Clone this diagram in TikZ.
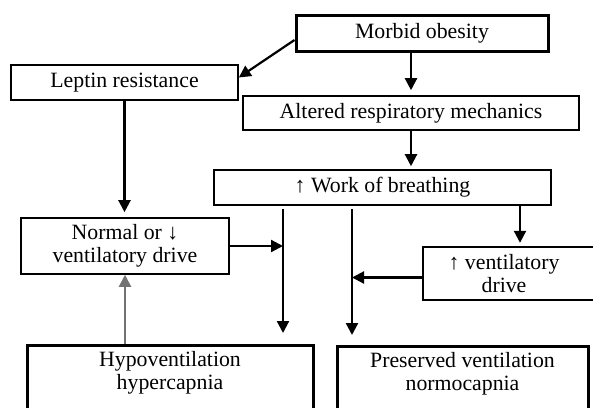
\documentclass[tikz,border=0pt]{standalone}
\usepackage{fontspec}
\setmainfont{Liberation Serif}
\usetikzlibrary{arrows.meta}

\begin{document}
\begin{tikzpicture}[
    x=1pt,y=-1pt,
    font=\fontsize{21.8}{23}\selectfont,
    any/.style={draw,line width=1.6pt,align=center,inner sep=4pt},
    heavy/.style={any,line width=3pt},
    open/.style={align=center,inner sep=4pt},
    arr/.style={line width=2.2pt,-{Triangle[length=12pt,width=12pt]},shorten >=4pt},
    back/.style={arr,draw=black!55,shorten >=0pt}
]
\path[use as bounding box,clip] (0,0) rectangle (593,407);

\node (mo)  [heavy,minimum width=252pt,minimum height=36pt] at (422,33) {Morbid obesity};
\node (lr)  [any,minimum width=227pt,minimum height=35pt] at (124.5,82.5) {Leptin resistance};
\node (arm) [any,minimum width=336pt,minimum height=34pt] at (411,113) {Altered respiratory mechanics};
\node (wob) [any,minimum width=337pt,minimum height=35pt] at (382.5,187.5) {↑ Work of breathing};
\node (nvd) [any,minimum width=208pt,minimum height=56pt] at (125,246) {Normal or ↓\\ventilatory drive};
\node (ivd) [open,minimum width=162pt,minimum height=53pt] at (504,273.5) {↑ ventilatory\\drive};
\draw[line width=1.6pt] ([xshift=30pt]ivd.north east) -| (ivd.south west) -- ([xshift=30pt]ivd.south east);
\node (hh)  [heavy,anchor=north,minimum width=286pt,text depth=80pt,inner sep=6pt] at (170,344) {Hypoventilation\\hypercapnia};
\node (pvn) [heavy,anchor=north,minimum width=251pt,text depth=80pt,inner sep=6pt] at (462.5,345) {Preserved ventilation\\normocapnia};

% split points under the work box
\coordinate (ta) at (283,209);
\coordinate (tb) at (352,209);
\coordinate (tc) at (520,205);

\draw[arr,shorten >=0pt] ([yshift=-7pt]mo.west) -- ([yshift=5pt]lr.east);
\draw[arr,shorten >=5pt] (mo.south -| arm.north) -- (arm.north);
\draw[arr,shorten >=3pt] (arm.south) -- (arm.south |- wob.north);
\draw[arr,shorten >=5pt] (lr.south) -- (lr.south |- nvd.north);
\draw[arr] (tc) -- (tc |- ivd.north);
\draw[arr,shorten >=11pt] (ta) -- (ta |- hh.north);
\draw[arr,shorten >=10pt] (tb) -- (tb |- pvn.north);
\draw[arr,shorten >=0pt] (nvd.east) -- (nvd.east -| ta);
\draw[arr,shorten >=0pt] ([yshift=-4pt]ivd.west) -- ([yshift=-4pt]ivd.west -| tb);
\draw[back] (nvd.south |- hh.north) -- (nvd.south);
\end{tikzpicture}
\end{document}
